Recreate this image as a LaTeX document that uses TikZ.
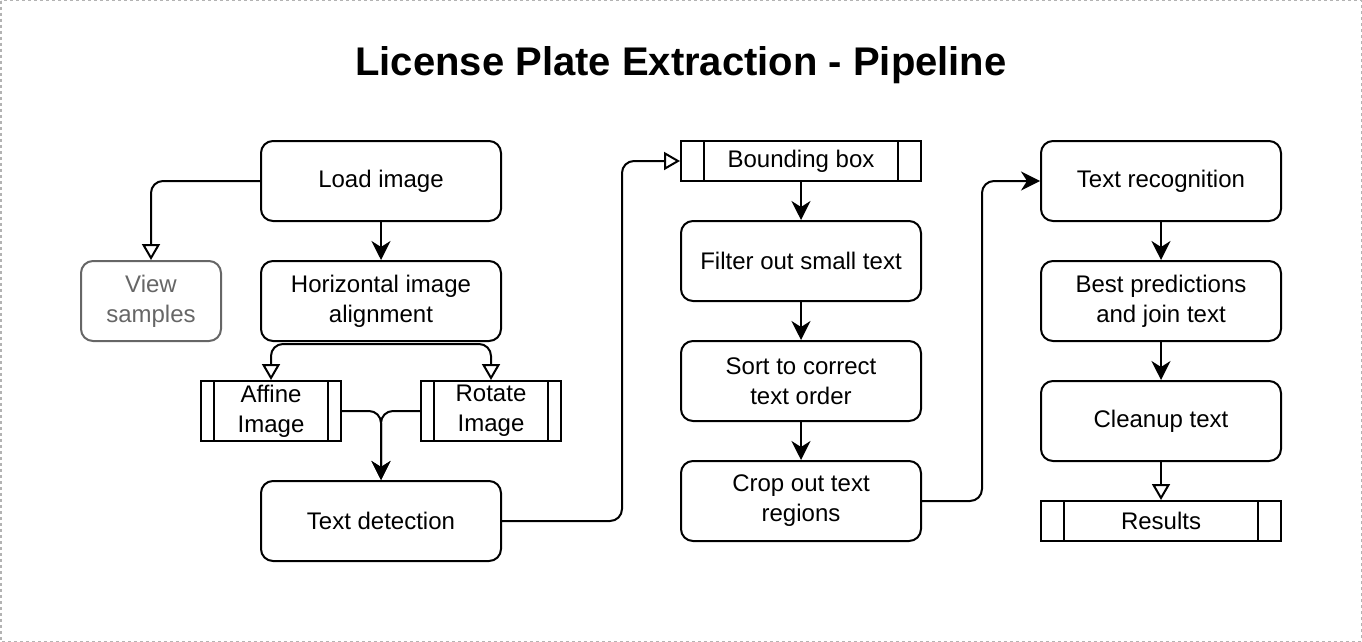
\documentclass[tikz,border=0pt]{standalone}
\usepackage{fontspec}
\setmainfont{Liberation Sans}
\usetikzlibrary{arrows.meta, positioning}
\definecolor{soft gray}{HTML}{666666}
\definecolor{frame gray}{HTML}{B3B3B3}
\tikzset{%
	process box/.style={
		rectangle,
		draw,
		rounded corners=12pt,
		line width=2pt,
		minimum width=240pt,
		minimum height=80pt,
		inner sep=0pt,
		align=center,
		font=\fontsize{24}{30}\selectfont
	},
	muted box/.style={
		process box,
		draw=soft gray,
		text=soft gray,
		minimum width=140pt
	},
	sub process/.style={
		process box,
		rounded corners=0pt,
		minimum height=40pt
	},
	flow/.style={
		line width=2pt,
		rounded corners=12pt,
		-{Stealth[length=19pt,width=19pt,inset=6pt]}
	},
	flow open/.style={
		line width=2pt,
		rounded corners=12pt,
		-{Triangle[open,length=16pt,width=18pt]}
	},
}
\begin{document}
\begin{tikzpicture}[x=1pt, y=-1pt]
	\useasboundingbox (0,0) rectangle (1362,642);
	\draw[frame gray, line width=1.5pt, dash pattern=on 3pt off 3pt] (0.75,0.75) rectangle (1361.25,641.25);

	\node (title) at (681,65) {\fontsize{40}{48}\selectfont\bfseries License Plate Extraction - Pipeline};

	% first column
	\node[process box] (load) at (381,181) {Load image};
	\node[muted box] (view) at (151,301) {View\\samples};
	\node[process box] (horiz) at (381,301) {Horizontal image\\alignment};
	\node[sub process, minimum width=140pt, minimum height=60pt] (affine) at (271,411) {Affine\\Image};
	\node[sub process, minimum width=140pt, minimum height=60pt] (rotate) at (491,411) {Rotate\\Image};
	\node[process box] (detect) at (381,521) {Text detection};

	% second column
	\node[sub process] (bbox) at (801,161) {Bounding box};
	\node[process box] (filter) at (801,261) {Filter out small text};
	\node[process box] (sort) at (801,381) {Sort to correct\\text order};
	\node[process box] (crop) at (801,501) {Crop out text\\regions};

	% third column
	\node[process box] (recog) at (1161,181) {Text recognition};
	\node[process box] (best) at (1161,301) {Best predictions\\and join text};
	\node[process box] (clean) at (1161,421) {Cleanup text};
	\node[sub process] (results) at (1161,521) {Results};

	% inner bars of the sub processes
	\foreach \n/\d in {affine/14, rotate/14, bbox/24, results/24} {
		\draw[line width=2pt] ([xshift=\d pt]\n.north west) -- ([xshift=\d pt]\n.south west);
		\draw[line width=2pt] ([xshift=-\d pt]\n.north east) -- ([xshift=-\d pt]\n.south east);
	}

	\draw[flow open] (load.west) -| (view.north);
	\draw[flow] (load) -- (horiz);
	\draw[flow open] ([yshift=-2pt]horiz.south) -| (affine.north);
	\draw[flow open] ([yshift=-2pt]horiz.south) -| (rotate.north);
	\draw[flow] (affine.east) -| (detect.north);
	\draw[flow] (rotate.west) -| (detect.north);
	\draw[flow open] (detect.east) -- ++(120,0) |- (bbox.west);

	\draw[flow] (bbox) -- (filter);
	\draw[flow] (filter) -- (sort);
	\draw[flow] (sort) -- (crop);
	\draw[flow] (crop.east) -- ++(60,0) |- (recog.west);

	\draw[flow] (recog) -- (best);
	\draw[flow] (best) -- (clean);
	\draw[flow open] (clean) -- (results);
\end{tikzpicture}
\end{document}
